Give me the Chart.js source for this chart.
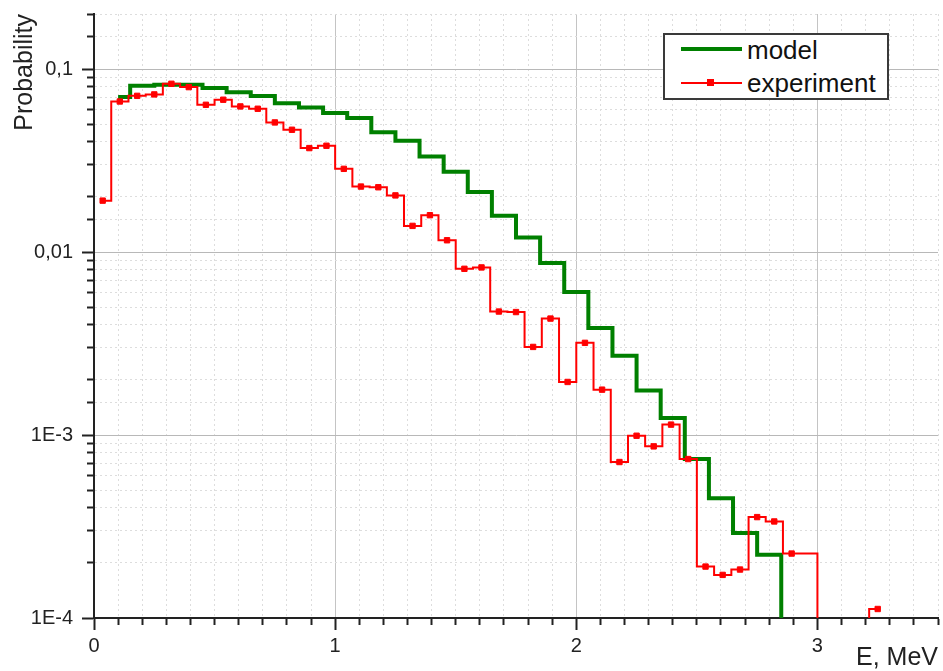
<!DOCTYPE html>
<html>
<head>
<meta charset="utf-8">
<script src="https://cdn.jsdelivr.net/npm/chart.js@4.4.1/dist/chart.umd.min.js"></script>
<style>
    body { margin: 0; background: #fff; }
    #wrap { position: relative; width: 943px; height: 671px; }
    #legend {
        position: absolute; left: 663px; top: 33px; width: 222px; height: 63px;
        border: 2px solid #3a3a3a; background: #fff;
        font-family: 'Liberation Sans', Arial, sans-serif; font-size: 26px; line-height: 26px; color: #111;
    }
    #legend div, #legend span { position: absolute; }
</style>
</head>
<body>
<div id="wrap">
    <canvas id="chart" width="943" height="671"></canvas>
    <div id="legend">
        <div style="left:16px; top:12px; width:61px; height:4px; background:#008000;"></div>
        <span style="left:82px; top:2px;">model</span>
        <div style="left:16px; top:47px; width:61px; height:2px; background:#ff0000;"></div>
        <div style="left:42px; top:44px; width:7px; height:7px; background:#ff0000;"></div>
        <span style="left:82px; top:35px;">experiment</span>
    </div>
</div>
<script>
// model spectrum, bin centres (MeV) and probability
const modelE = [0.1, 0.2, 0.3, 0.4, 0.5, 0.6, 0.7, 0.8, 0.9, 1.0,
    1.1, 1.2, 1.3, 1.4, 1.5, 1.6, 1.7, 1.8, 1.9, 2.0,
    2.1, 2.2, 2.3, 2.4, 2.5, 2.6, 2.7, 2.8, 2.9];
// last bin is empty, below the axis floor
const modelP = [0.0703, 0.081, 0.082, 0.082, 0.0787, 0.0748, 0.0712, 0.0651, 0.0617, 0.0575,
    0.054, 0.0451, 0.0406, 0.0333, 0.0275, 0.0213, 0.0158, 0.012, 0.00871, 0.00604,
    0.00384, 0.00271, 0.00175, 0.00124, 0.00074, 0.000451, 0.000291, 0.000222, 1e-6];

// experiment spectrum (empty bins sit below the axis floor)
const expE = [0.036, 0.107, 0.179, 0.25, 0.321, 0.393, 0.464, 0.536, 0.607, 0.679,
    0.75, 0.821, 0.893, 0.964, 1.036, 1.107, 1.179, 1.25, 1.321, 1.393,
    1.464, 1.536, 1.607, 1.679, 1.75, 1.821, 1.893, 1.964, 2.036, 2.107,
    2.179, 2.25, 2.321, 2.393, 2.464, 2.536, 2.607, 2.679, 2.75, 2.821,
    2.893, 2.964, 3.036, 3.107, 3.179, 3.25];
const expP = [0.0191, 0.0665, 0.0714, 0.0727, 0.0831, 0.0797, 0.0638, 0.068, 0.0625, 0.0607,
    0.0511, 0.0466, 0.037, 0.0381, 0.0285, 0.0228, 0.0226, 0.0204, 0.0139, 0.0159,
    0.0116, 0.0081, 0.00824, 0.00473, 0.0047, 0.00303, 0.00433, 0.00195, 0.00319, 0.00177,
    0.000712, 0.000991, 0.000867, 0.00114, 0.000739, 0.000191, 0.000172, 0.000184, 0.000356, 0.000337,
    0.000225, 0.000225, 1e-6, 1e-6, 1e-6, 0.000112];
const expUnmarked = [41]; // bin with no marker drawn in the original

const xTickValues = [0, 1, 2, 3];
const xTickLabels = ['0', '1', '2', '3'];
const yTickValues = [1e-4, 1e-3, 1e-2, 1e-1];
const yTickLabels = ['1E-4', '1E-3', '0,01', '0,1'];

const FONT = 'Liberation Sans, Arial, sans-serif';
const TEXT = '#222';

function isDecade(v) {
    const l = Math.log10(v);
    return Math.abs(l - Math.round(l)) < 1e-6;
}
function isWhole(v) {
    return Math.abs(v - Math.round(v)) < 1e-6;
}
// empty string keeps the minor tick and its grid line, just without a label
function findLabel(values, labels, v) {
    const i = values.findIndex((t) => Math.abs(t - v) <= Math.abs(t) * 1e-6 + 1e-9);
    return i >= 0 ? labels[i] : '';
}

const toPoints = (xs, ys) => xs.map((x, i) => ({ x: x, y: ys[i] }));

const ctx = document.getElementById('chart').getContext('2d');
new Chart(ctx, {
    type: 'line',
    data: {
        datasets: [
            {
                label: 'model',
                data: toPoints(modelE, modelP),
                stepped: 'middle',
                borderColor: '#008000',
                borderWidth: 4,
                pointRadius: 0,
                fill: false,
                order: 2,
                clip: { left: 5, top: 5, right: 5, bottom: 0 },
            },
            {
                label: 'experiment',
                data: toPoints(expE, expP),
                stepped: 'middle',
                borderColor: '#ff0000',
                borderWidth: 2,
                pointStyle: 'rect',
                pointRadius: (c) => (expUnmarked.includes(c.dataIndex) ? 0 : 3.8),
                pointBackgroundColor: '#ff0000',
                pointBorderColor: '#ff0000',
                pointBorderWidth: 1,
                fill: false,
                order: 1,
                clip: { left: 5, top: 5, right: 5, bottom: 0 },
            },
        ],
    },
    options: {
        responsive: false,
        animation: false,
        layout: { padding: { top: 14, right: 1, left: 0, bottom: 0 } },
        plugins: {
            legend: { display: false },
            tooltip: { enabled: false },
        },
        scales: {
            x: {
                type: 'linear',
                min: 0,
                max: 3.5,
                afterFit: (scale) => { scale.height = 53; scale.paddingLeft = 0; scale.paddingRight = 0; },
                ticks: {
                    stepSize: 0.1,
                    autoSkip: false,
                    maxRotation: 0,
                    padding: 4,
                    color: TEXT,
                    font: { family: FONT, size: 20 },
                    callback: (v) => findLabel(xTickValues, xTickLabels, v),
                },
                grid: {
                    color: (c) => (c.tick && isWhole(c.tick.value) ? '#c4c4c4' : '#dddddd'),
                    lineWidth: 1,
                    tickLength: 12,
                    tickWidth: 2,
                    tickColor: '#222',
                    tickBorderDash: (c) => (c.tick && isWhole(c.tick.value) ? [] : [6, 100]),
                },
                border: {
                    color: '#222',
                    width: 2,
                    dash: (c) => (c.tick && !isWhole(c.tick.value) ? [2, 3] : []),
                },
                title: {
                    display: true,
                    text: 'E, MeV',
                    align: 'end',
                    color: TEXT,
                    font: { family: FONT, size: 25, lineHeight: 1 },
                    padding: { top: 0, bottom: 0 },
                },
            },
            y: {
                type: 'logarithmic',
                min: 1e-4,
                max: 0.2,
                afterFit: (scale) => { scale.width = 94; scale.paddingTop = 0; scale.paddingBottom = 0; },
                ticks: {
                    autoSkip: false,
                    padding: 9,
                    color: TEXT,
                    font: { family: FONT, size: 20 },
                    callback: (v) => findLabel(yTickValues, yTickLabels, v),
                },
                grid: {
                    color: (c) => (c.tick && isDecade(c.tick.value) ? '#b8b8b8' : '#dddddd'),
                    lineWidth: 1,
                    tickLength: 12,
                    tickWidth: 2,
                    tickColor: '#222',
                    tickBorderDash: (c) => (c.tick && isDecade(c.tick.value) ? [] : [0, 5, 6, 100]),
                },
                border: {
                    color: '#222',
                    width: 2,
                    dash: (c) => (c.tick && !isDecade(c.tick.value) ? [2, 3] : []),
                },
                title: {
                    display: true,
                    text: 'Probability',
                    align: 'end',
                    color: TEXT,
                    font: { family: FONT, size: 25 },
                    padding: { top: 10, bottom: 0 },
                },
            },
        },
    },
});
</script>
</body>
</html>
